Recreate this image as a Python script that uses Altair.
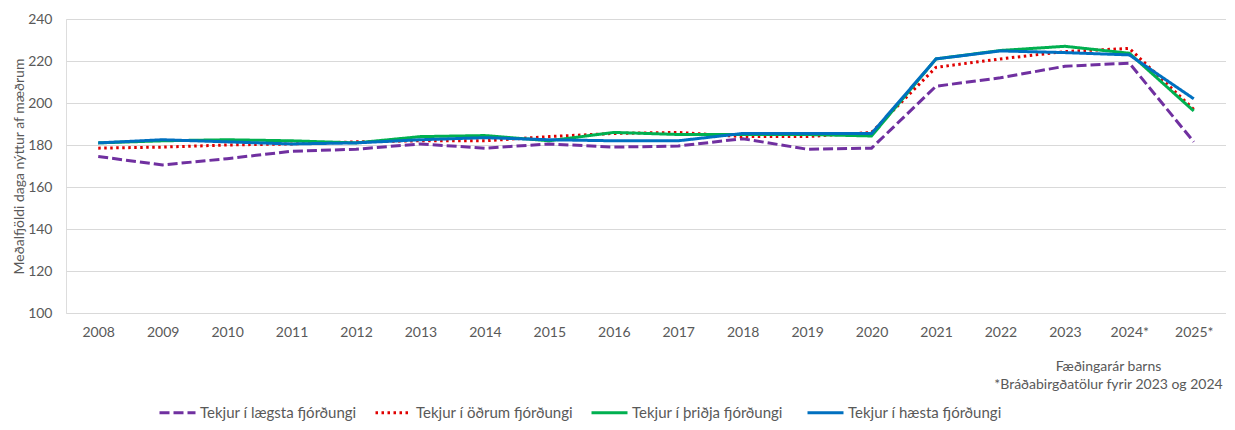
import altair as alt
import pandas as pd

years = ["2008", "2009", "2010", "2011", "2012", "2013", "2014", "2015", "2016",
         "2017", "2018", "2019", "2020", "2021", "2022", "2023", "2024*", "2025*"]

series_names = ["Tekjur í lægsta fjórðungi", "Tekjur í öðrum fjórðungi",
                "Tekjur í þriðja fjórðungi", "Tekjur í hæsta fjórðungi"]

lowest = [174.5, 170.5, 173.5, 177.0, 178.0, 180.5, 178.5, 180.5, 179.0,
          179.5, 183.0, 178.0, 178.5, 208.0, 212.0, 217.5, 219.0, 181.5]
second = [178.5, 179.0, 180.0, 180.5, 181.5, 182.0, 182.0, 184.0, 185.5,
          186.0, 184.0, 184.0, 186.0, 217.0, 221.0, 224.5, 226.0, 197.0]
third = [181.0, 182.0, 182.5, 182.0, 181.0, 184.0, 184.5, 182.0, 186.0,
         185.0, 185.0, 185.0, 184.3, 221.0, 225.0, 227.0, 223.7, 196.2]
highest = [181.0, 182.5, 181.5, 180.5, 181.0, 182.5, 183.5, 182.5, 182.0,
           182.0, 185.5, 185.5, 185.5, 221.0, 224.8, 224.0, 222.9, 202.0]

colors = ["#7030A0", "#E00000", "#00B050", "#0070C0"]
dashes = [[10, 4], [2.5, 3.5], [1, 0], [1, 0]]

rows = []
for name, vals in zip(series_names, [lowest, second, third, highest]):
    for yr, v in zip(years, vals):
        rows.append({"Ár": yr, "Gildi": v, "Hópur": name})
df = pd.DataFrame(rows)

FONT = "Lato"
GRAY = "#595959"

chart = alt.Chart(df).mark_line(strokeWidth=3).encode(
    x=alt.X("Ár:O", sort=years,
            scale=alt.Scale(type="point", padding=0.5),
            axis=alt.Axis(
                title=["Fæðingarár barns", "*Bráðabirgðatölur fyrir 2023 og 2024"],
                titleX=1042, titleY=46, titleAlign="center", titleBaseline="top",
                titleLineHeight=18, titleFont=FONT, titleFontSize=14,
                titleFontWeight="normal", titleColor=GRAY,
                labelAngle=0, labelFont=FONT, labelFontSize=14, labelColor=GRAY,
                labelPadding=12, ticks=False, domain=False, grid=False)),
    y=alt.Y("Gildi:Q",
            scale=alt.Scale(domain=[100, 240], nice=False, zero=False),
            axis=alt.Axis(
                title="Meðalfjöldi daga nýttur af mæðrum",
                values=[100, 120, 140, 160, 180, 200, 220, 240],
                titleFont=FONT, titleFontSize=14, titleFontWeight="normal",
                titleColor=GRAY, titlePadding=1,
                labelFont=FONT, labelFontSize=14, labelColor=GRAY,
                labelPadding=14, ticks=False, domain=False,
                grid=True, gridColor="#d9d9d9", gridWidth=1)),
    color=alt.Color("Hópur:N",
                    scale=alt.Scale(domain=series_names, range=colors),
                    legend=alt.Legend(
                        title=None, orient="none", legendX=92, legendY=374,
                        direction="horizontal", columns=4, gridAlign="all",
                        columnPadding=12, symbolType="stroke", symbolSize=1296,
                        symbolStrokeWidth=3, labelOffset=3,
                        labelFont=FONT, labelFontSize=15, labelColor=GRAY,
                        labelLimit=300)),
    strokeDash=alt.StrokeDash("Hópur:N",
                              scale=alt.Scale(domain=series_names, range=dashes),
                              legend=None),
    order=alt.Order("Hópur:N"),
).properties(
    width=1160,
    height=294,
    autosize=alt.AutoSizeParams(type="none"),
    padding={"left": 58, "top": 11, "right": 0, "bottom": 108},
).configure_view(stroke=None).configure(background="white")

chart.save("out.html", embed_options={"renderer": "svg", "actions": False})
